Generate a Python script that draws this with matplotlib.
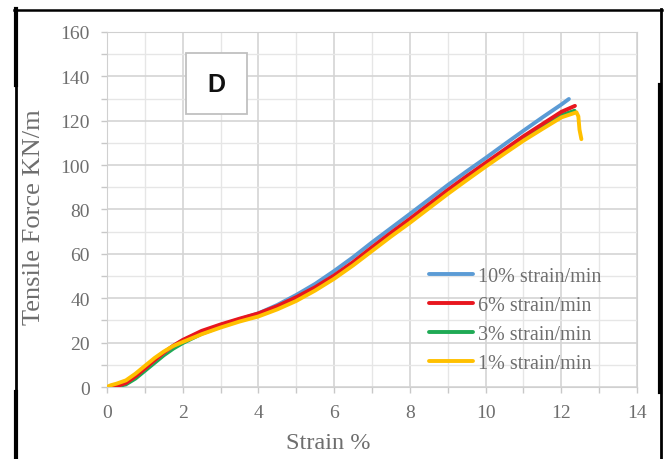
import numpy as np
import matplotlib.pyplot as plt
from matplotlib.lines import Line2D
from matplotlib.patches import Rectangle
from matplotlib.ticker import MultipleLocator

# strain % and tensile force (kN/m)
strain_10 = [0, 0.25, 0.5, 0.75, 1, 1.25, 1.5, 1.75, 2, 2.5, 3, 3.5, 4, 4.5, 5, 5.5, 6, 6.5,
             7, 7.5, 8, 8.5, 9, 9.5, 10, 10.5, 11, 11.5, 12, 12.2]
force_10 = [0, 0.4, 2, 5, 8.5, 12, 15.5, 18.5, 21, 24.8, 27.8, 30.5, 33.2, 37, 41.5, 46.5, 52.3, 58.5,
            65.2, 71.6, 78, 84.5, 91, 97.2, 103.2, 109.4, 115.5, 121.5, 127.3, 129.8]

strain_6 = [0, 0.25, 0.5, 0.75, 1, 1.25, 1.5, 1.75, 2, 2.5, 3, 3.5, 4, 4.5, 5, 5.5, 6, 6.5,
            7, 7.5, 8, 8.5, 9, 9.5, 10, 10.5, 11, 11.5, 12, 12.36]
force_6 = [0, 0.3, 1.8, 4.8, 8.3, 12, 15.5, 18.6, 21.2, 25.3, 28.2, 30.8, 33.2, 36.5, 40.5, 45, 50.3, 56.3,
           63, 69.5, 75.8, 82.3, 88.8, 95, 101, 107, 113, 118.5, 124, 126.7]

strain_3 = [0, 0.25, 0.5, 0.75, 1, 1.25, 1.5, 1.75, 2, 2.5, 3, 3.5, 4, 4.5, 5, 5.5, 6, 6.5,
            7, 7.5, 8, 8.5, 9, 9.5, 10, 10.5, 11, 11.5, 12, 12.35]
force_3 = [0, 0.2, 1.2, 3.8, 7.3, 10.8, 14.3, 17.3, 19.8, 24, 27.2, 30, 32.5, 35.8, 39.5, 44.2, 49.5, 55.5,
           62, 68.5, 74.8, 81.2, 87.7, 94, 100, 106, 111.8, 117.2, 122.5, 124.5]

strain_1 = [0, 0.1, 0.25, 0.5, 0.75, 1, 1.25, 1.5, 1.75, 2, 2.5, 3, 3.5, 4, 4.5, 5, 5.5, 6, 6.5,
            7, 7.5, 8, 8.5, 9, 9.5, 10, 10.5, 11, 11.5, 12, 12.4, 12.45, 12.48, 12.53]
force_1 = [0, 0.8, 1.5, 3, 6, 9.5, 13, 16, 18.5, 20.3, 23.8, 26.8, 29.5, 31.8, 35, 38.8, 43.5, 48.8, 54.8,
           61.3, 67.8, 74, 80.5, 87, 93.2, 99.3, 105.2, 111, 116.3, 121.5, 123.8, 122, 116, 111.7]

labels = ["10% strain/min", "6% strain/min", "3% strain/min", "1% strain/min"]
colors = ["#5b9bd5", "#e8161e", "#1faa55", "#ffc000"]

plt.rcParams["font.family"] = ["Liberation Serif", "DejaVu Serif"]
gray_text = "#6e6e6e"

fig = plt.figure(figsize=(6.66, 4.60), dpi=100)
ax = fig.add_axes([0.1607, 0.1565, 0.7958, 0.7718])

series = [(strain_10, force_10), (strain_6, force_6), (strain_3, force_3), (strain_1, force_1)]
# green first so it sits mostly underneath, as in the original
handles = [None] * 4
for i in [2, 0, 1, 3]:
    x, y = series[i]
    handles[i], = ax.plot(x, y, color=colors[i], lw=2.8, label=labels[i],
                          solid_capstyle="round", solid_joinstyle="round", zorder=3)

ax.set_xlim(0, 14)
ax.set_ylim(0, 160)
ax.xaxis.set_major_locator(MultipleLocator(2))
ax.xaxis.set_minor_locator(MultipleLocator(1))
ax.yaxis.set_major_locator(MultipleLocator(20))
ax.yaxis.set_minor_locator(MultipleLocator(10))
ax.grid(which="major", color="#d4d4d4", lw=1.2)
ax.grid(which="minor", color="#e6e6e6", lw=1.0)
ax.set_axisbelow(True)

for s in ax.spines.values():
    s.set_color("#d0d0d0")
ax.tick_params(which="both", colors="#c8c8c8", length=4, width=1,
               labelcolor=gray_text, labelsize=14)
ax.tick_params(axis="y", pad=8.5)
ax.tick_params(axis="x", pad=8)

ax.set_xlabel("Strain %", fontsize=17.5, color=gray_text)
ax.xaxis.set_label_coords(0.417, -0.128)
ax.set_ylabel("Tensile Force KN/m", fontsize=19, color=gray_text)
ax.yaxis.set_label_coords(-0.1175, 0.48)

leg = ax.legend(handles=handles, loc="lower left", bbox_to_anchor=(0.5925, 0.016),
                frameon=False, fontsize=14.5, handlelength=2.2, handletextpad=0.25,
                labelspacing=0.5, borderaxespad=0)
for t in leg.get_texts():
    t.set_color(gray_text)

# "D" panel tag
fig.add_artist(Rectangle((186 / 666, 1 - 115 / 460), 61 / 666, 61 / 460,
                         transform=fig.transFigure, fc="white", ec="#c0c0c0", lw=1.3, zorder=5))
fig.text(216.5 / 666, 1 - 85 / 460, "D", ha="center", va="center", fontsize=18,
         fontweight="bold", family="Liberation Sans", color="#111111", zorder=6)

# picture frame around the figure
def fline(x0, y0, x1, y1, lw):
    fig.add_artist(Line2D([x0 / 666, x1 / 666], [1 - y0 / 460, 1 - y1 / 460],
                          transform=fig.transFigure, color="black", lw=lw, zorder=10))

fline(14, 10.5, 662, 10.5, 1.8)
fline(15.5, 10, 15.5, 460, 2.0)
fline(660.5, 10, 660.5, 460, 2.0)
fline(15.5, 10, 15.5, 86, 3)
fline(15.5, 393, 15.5, 460, 3)
fline(659.5, 86, 659.5, 393, 3)

fig.savefig("out.png", dpi=100)
